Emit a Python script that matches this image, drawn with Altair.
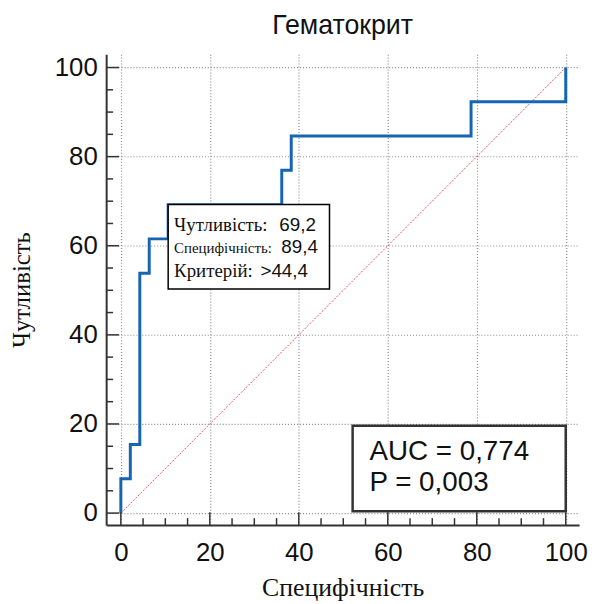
import altair as alt
import pandas as pd

# ROC step curve (100 - specificity, sensitivity), vertices
fpr = [0, 0, 2.13, 2.13, 4.26, 4.26, 6.38, 6.38, 10.64, 10.64, 36.17, 36.17,
       38.30, 38.30, 78.72, 78.72, 100, 100]
tpr = [0, 7.69, 7.69, 15.38, 15.38, 53.85, 53.85, 61.54, 61.54, 69.23, 69.23,
       76.92, 76.92, 84.62, 84.62, 92.31, 92.31, 100]

diag_x = [0, 100]
diag_y = [0, 100]

major_ticks = [0, 20, 40, 60, 80, 100]
minor_ticks = [5, 10, 15, 25, 30, 35, 45, 50, 55, 65, 70, 75, 85, 90, 95]

# Cut-off point annotation
cut_x = 10.64
cut_y = 69.23
box_x2 = 46.9
box_y2 = 50.3
info_labels = ["Чутливість:", "Специфічність:", "Критерій:"]
info_values = ["69,2", "89,4", ">44,4"]

# AUC box
auc_box_x = [52.1, 100]
auc_box_y = [0.4, 19.6]
auc_lines = ["AUC = 0,774", "P = 0,003"]

XDOM = [-3.3, 103]
YDOM = [-2.7, 103]
W, H = 477, 475

SANS = "Liberation Sans"
SERIF = "Liberation Serif"

xs = alt.Scale(domain=XDOM, nice=False, zero=False)
ys = alt.Scale(domain=YDOM, nice=False, zero=False)

xaxis = alt.Axis(values=major_ticks, grid=True, gridDash=[1, 2], gridColor="#8a8a8a",
                 gridWidth=1.2, ticks=False, domain=True, domainColor="#333333",
                 domainWidth=2, labelFont=SANS, labelFontSize=26, labelColor="#111",
                 labelPadding=15, title="Специфічність", titleFont=SERIF,
                 titleFontSize=26, titleFontWeight="normal", titleColor="#111",
                 titlePadding=9)
yaxis = alt.Axis(values=major_ticks, grid=True, gridDash=[1, 2], gridColor="#8a8a8a",
                 gridWidth=1.2, ticks=False, domain=True, domainColor="#333333",
                 domainWidth=2, labelFont=SANS, labelFontSize=26, labelColor="#111",
                 labelPadding=9, title="Чутливість", titleFont=SERIF,
                 titleFontSize=25, titleFontWeight="normal", titleColor="#111",
                 titleX=-85, titleY=H / 2, titleBaseline="middle", titleAngle=270)

roc_df = pd.DataFrame({"fpr": fpr, "tpr": tpr, "i": range(len(fpr))})
roc = alt.Chart(roc_df).mark_line(color="#1565b3", strokeWidth=3, clip=True).encode(
    x=alt.X("fpr:Q", scale=xs, axis=xaxis),
    y=alt.Y("tpr:Q", scale=ys, axis=yaxis),
    order="i:Q",
)

diag = alt.Chart(pd.DataFrame({"x": diag_x, "y": diag_y})).mark_line(
    color="#e05555", strokeWidth=1, strokeDash=[2, 1.5]
).encode(x=alt.X("x:Q", scale=xs), y=alt.Y("y:Q", scale=ys))

info_box = alt.Chart(pd.DataFrame({"x": [cut_x], "x2": [box_x2], "y": [cut_y], "y2": [box_y2]})).mark_rect(
    fill="white", stroke="black", strokeWidth=1.5
).encode(x=alt.X("x:Q", scale=xs), x2="x2:Q", y=alt.Y("y:Q", scale=ys), y2="y2:Q")

pt = pd.DataFrame({"x": [cut_x], "y": [cut_y]})
label_dy = [27, 49, 73]
label_size = [19, 15, 19]
value_dx = [112, 114, 93]
texts = []
for lab, val, dy, fs, vdx in zip(info_labels, info_values, label_dy, label_size, value_dx):
    texts.append(alt.Chart(pt).mark_text(
        text=lab, font=SERIF, fontSize=fs, align="left", baseline="alphabetic",
        dx=6, dy=dy, color="#111").encode(x=alt.X("x:Q", scale=xs), y=alt.Y("y:Q", scale=ys)))
    texts.append(alt.Chart(pt).mark_text(
        text=val, font=SANS, fontSize=19, align="left", baseline="alphabetic",
        dx=vdx, dy=dy, color="#111").encode(x=alt.X("x:Q", scale=xs), y=alt.Y("y:Q", scale=ys)))

auc_box = alt.Chart(pd.DataFrame({"x": [auc_box_x[0]], "x2": [auc_box_x[1]],
                                  "y": [auc_box_y[1]], "y2": [auc_box_y[0]]})).mark_rect(
    fill="white", stroke="#333333", strokeWidth=2.5
).encode(x=alt.X("x:Q", scale=xs), x2="x2:Q", y=alt.Y("y:Q", scale=ys), y2="y2:Q")

apt = pd.DataFrame({"x": [auc_box_x[0]], "y": [auc_box_y[1]]})
for line, dy in zip(auc_lines, [35, 66]):
    texts.append(alt.Chart(apt).mark_text(
        text=line, font=SANS, fontSize=28, align="left", baseline="alphabetic",
        dx=17, dy=dy, color="#111").encode(x=alt.X("x:Q", scale=xs), y=alt.Y("y:Q", scale=ys)))

# inward ticks
def xticks(vals, length):
    return alt.Chart(pd.DataFrame({"v": vals})).mark_rule(color="#333333", strokeWidth=1.5).encode(
        x=alt.X("v:Q", scale=xs), y=alt.value(H), y2=alt.value(H - length))

def yticks(vals, length):
    return alt.Chart(pd.DataFrame({"v": vals})).mark_rule(color="#333333", strokeWidth=1.5).encode(
        y=alt.Y("v:Q", scale=ys), x=alt.value(0), x2=alt.value(length))

chart = alt.layer(
    diag, roc, info_box, auc_box, *texts,
    xticks(major_ticks, 13), xticks(minor_ticks, 7),
    yticks(major_ticks, 13), yticks(minor_ticks, 7),
).properties(
    width=W, height=H,
    title=alt.TitleParams("Гематокрит", font=SANS, fontSize=27, fontWeight="normal",
                          color="#111", anchor="middle", frame="group", offset=-7,
                          baseline="alphabetic"),
    autosize=alt.AutoSizeParams(type="none"),
    padding={"left": 99, "top": 44, "right": 10, "bottom": 74},
).configure_view(stroke=None)

chart.save("out.html", embed_options={"renderer": "svg", "actions": False})
